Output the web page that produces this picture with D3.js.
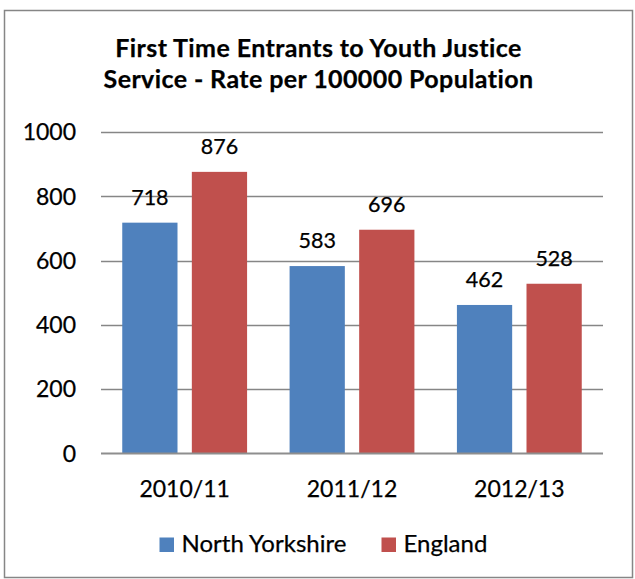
<!DOCTYPE html>
<html>
<head>
<meta charset="utf-8">
<script src="https://cdn.jsdelivr.net/npm/d3@7"></script>
<style>
  html, body { margin: 0; padding: 0; background: #fff; }
  svg { display: block; }
  text { font-family: Lato, "Noto Sans", sans-serif; fill: #000; stroke: #000; stroke-width: 0.25px; }
</style>
</head>
<body>
<svg id="chart" width="635" height="579"></svg>
<script>
// Chart data
const categories = ["2010/11", "2011/12", "2012/13"];
const seriesNames = ["North Yorkshire", "England"];
const northYorkshire = [718, 583, 462];
const england = [876, 696, 528];
const yTicks = [0, 200, 400, 600, 800, 1000];
const titleLines = ["First Time Entrants to Youth Justice", "Service - Rate per 100000 Population"];
const colors = ["#4F81BD", "#C0504D"];

const series = [northYorkshire, england];

const svg = d3.select("#chart");
const plot = { left: 101, right: 603, top: 132, bottom: 453.5 };

// Outer frame
svg.append("rect")
  .attr("x", 4.5).attr("y", 10.5)
  .attr("width", 628).attr("height", 567)
  .attr("fill", "#fff")
  .attr("stroke", "#868686").attr("stroke-width", 1.5);

// Title
svg.append("g").selectAll("text")
  .data(titleLines)
  .join("text")
  .attr("x", 318.5)
  .attr("y", (d, i) => 57 + i * 31)
  .attr("text-anchor", "middle")
  .attr("font-weight", "bold")
  .attr("font-size", 25)
  .attr("letter-spacing", 0.4)
  .text(d => d);

const x0 = d3.scaleBand()
  .domain(categories)
  .range([plot.left, plot.right])
  .paddingInner(0.254)
  .paddingOuter(0.127);

const x1 = d3.scaleBand()
  .domain(seriesNames)
  .range([0, x0.bandwidth()])
  .paddingInner(0.206);

const y = d3.scaleLinear()
  .domain([0, 1000])
  .range([plot.bottom, plot.top]);

// Gridlines
svg.append("g").selectAll("line")
  .data(yTicks.filter(d => d > 0))
  .join("line")
  .attr("x1", plot.left).attr("x2", plot.right)
  .attr("y1", d => Math.round(y(d)) + 0.5)
  .attr("y2", d => Math.round(y(d)) + 0.5)
  .attr("stroke", "#868686").attr("stroke-width", 1.3);

// Y axis tick labels
svg.append("g").selectAll("text")
  .data(yTicks)
  .join("text")
  .attr("x", 76)
  .attr("y", d => y(d))
  .attr("dy", "0.36em")
  .attr("text-anchor", "end")
  .attr("font-size", 23)
  .text(d => d);

// Bars
const groups = svg.append("g").selectAll("g")
  .data(categories)
  .join("g")
  .attr("transform", d => `translate(${x0(d)},0)`);

groups.selectAll("rect")
  .data((c, ci) => seriesNames.map((s, si) => ({ s, si, v: series[si][ci] })))
  .join("rect")
  .attr("x", d => x1(d.s))
  .attr("width", x1.bandwidth())
  .attr("y", d => y(d.v))
  .attr("height", d => y(0) - y(d.v))
  .attr("fill", d => colors[d.si]);

// Value labels
groups.selectAll("text")
  .data((c, ci) => seriesNames.map((s, si) => ({ s, si, v: series[si][ci] })))
  .join("text")
  .attr("x", d => x1(d.s) + x1.bandwidth() / 2)
  .attr("y", d => y(d.v) - 18)
  .attr("text-anchor", "middle")
  .attr("font-size", 21.5)
  .text(d => d.v);

// X axis baseline
svg.append("line")
  .attr("x1", plot.left).attr("x2", plot.right)
  .attr("y1", plot.bottom).attr("y2", plot.bottom)
  .attr("stroke", "#8e8e8e").attr("stroke-width", 2);

// Category labels
svg.append("g").selectAll("text")
  .data(categories)
  .join("text")
  .attr("x", d => x0(d) + x0.bandwidth() / 2)
  .attr("y", 497)
  .attr("text-anchor", "middle")
  .attr("font-size", 23)
  .text(d => d);

// Legend
const legendX = [159.5, 381.5];
const legend = svg.append("g").selectAll("g")
  .data(seriesNames)
  .join("g")
  .attr("transform", (d, i) => `translate(${legendX[i]},537.5)`);
legend.append("rect")
  .attr("width", 14.5).attr("height", 14.5)
  .attr("fill", (d, i) => colors[i]);
legend.append("text")
  .attr("x", 22)
  .attr("y", 14)
  .attr("font-size", 24)
  .text(d => d);
</script>
</body>
</html>
